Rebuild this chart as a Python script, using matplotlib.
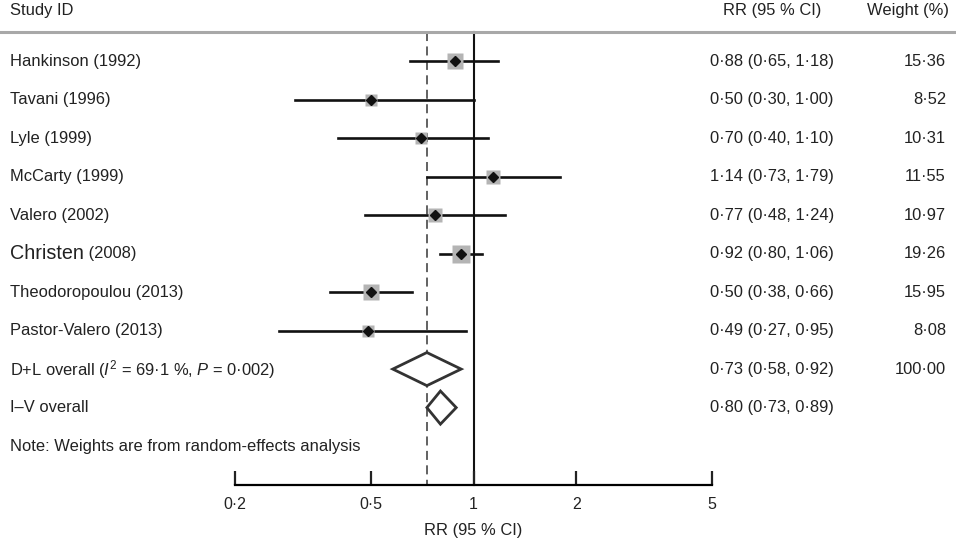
import matplotlib.pyplot as plt
import matplotlib.transforms as mtransforms

plt.rcParams['font.family'] = ['Liberation Sans', 'DejaVu Sans']
plt.rcParams['mathtext.fontset'] = 'custom'
plt.rcParams['mathtext.rm'] = 'Liberation Sans'
plt.rcParams['mathtext.it'] = 'Liberation Sans:italic'

# Données du forest plot
studies = ["Hankinson", "Tavani", "Lyle", "McCarty", "Valero",
           "Christen", "Theodoropoulou", "Pastor-Valero"]
years = ["1992", "1996", "1999", "1999", "2002", "2008", "2013", "2013"]
rr = [0.88, 0.50, 0.70, 1.14, 0.77, 0.92, 0.50, 0.49]
ci_low = [0.65, 0.30, 0.40, 0.73, 0.48, 0.80, 0.38, 0.27]
ci_high = [1.18, 1.00, 1.10, 1.79, 1.24, 1.06, 0.66, 0.95]
weights = [15.36, 8.52, 10.31, 11.55, 10.97, 19.26, 15.95, 8.08]

pooled_labels = ["D+L overall ($\\mathit{I}^2$ = 69·1 %, $\\mathit{P}$ = 0·002)",
                 "I–V overall"]
pooled_rr = [0.73, 0.80]
pooled_low = [0.58, 0.73]
pooled_high = [0.92, 0.89]
pooled_weights = ["100·00", ""]

x_ticks = [0.2, 0.5, 1, 2, 5]
x_tick_labels = ["0·2", "0·5", "1", "2", "5"]


def fmt(v):
    return f"{v:.2f}".replace(".", "·")


fig = plt.figure(figsize=(9.56, 5.42), dpi=100)
ax = fig.add_axes([235 / 956, 0, 477 / 956, 1])
ax.set_xscale('log')
ax.set_xlim(0.2, 5)
ax.set_ylim(12.49, -1.584)
trans = mtransforms.blended_transform_factory(fig.transFigure, ax.transData)

for s in ['top', 'left', 'right']:
    ax.spines[s].set_visible(False)
ax.spines['bottom'].set_position(('data', 11))
ax.spines['bottom'].set_linewidth(1.6)
ax.set_yticks([])
ax.set_xticks(x_ticks)
ax.set_xticklabels(x_tick_labels)
ax.minorticks_off()
ax.tick_params(axis='x', direction='in', length=10, width=1.6, pad=9,
               labelsize=11.5, colors='#222222')

txt = dict(fontsize=11.9, color='#222222', va='center')

# En-tête
ax.text(10 / 956, -1.3, "Study ID", transform=trans, ha='left', **txt)
ax.text(772 / 956, -1.3, "RR (95 % CI)", transform=trans, ha='center', **txt)
ax.text(949 / 956, -1.3, "Weight (%)", transform=trans, ha='right', **txt)
ax.plot([0, 1], [-0.75, -0.75], transform=trans, color='#a8a8a8', lw=2.2,
        clip_on=False)

# Lignes verticales
ax.plot([1, 1], [-0.75, 11], color='#111111', lw=1.5, zorder=1)
ax.plot([pooled_rr[0]] * 2, [-0.75, 11], color='#555555', lw=1.3,
        ls=(0, (5, 3)), zorder=1)

# Études
for i in range(len(studies)):
    if studies[i] == "Christen":
        t = ax.text(10 / 956, i, studies[i], transform=trans, ha='left',
                    fontsize=14.2, color='#222222', va='center')
        ax.annotate(" (" + years[i] + ")", xycoords=t, xy=(1, 0.5),
                    ha='left', va='center', fontsize=11.9, color='#222222')
    else:
        ax.text(10 / 956, i, f"{studies[i]} ({years[i]})", transform=trans,
                ha='left', **txt)
    ax.plot([ci_low[i], ci_high[i]], [i, i], color='#111111', lw=1.9, zorder=2)
    ax.plot(rr[i], i, marker='s', markersize=2.85 * weights[i] ** 0.5,
            color='#b4b4b4', mec='none', zorder=3)
    ax.plot(rr[i], i, marker='D', markersize=5.2, color='#111111', zorder=4)
    ax.text(772 / 956, i, f"{fmt(rr[i])} ({fmt(ci_low[i])}, {fmt(ci_high[i])})",
            transform=trans, ha='center', **txt)
    ax.text(946 / 956, i, fmt(weights[i]), transform=trans, ha='right', **txt)

# Résultats poolés
half_h = 0.43
for j in range(len(pooled_rr)):
    y = len(studies) + j
    ax.text(10 / 956, y, pooled_labels[j], transform=trans, ha='left', **txt)
    ax.fill([pooled_low[j], pooled_rr[j], pooled_high[j], pooled_rr[j]],
            [y, y - half_h, y, y + half_h], facecolor='white',
            edgecolor='#333333', lw=2.0, zorder=3)
    ax.text(772 / 956, y,
            f"{fmt(pooled_rr[j])} ({fmt(pooled_low[j])}, {fmt(pooled_high[j])})",
            transform=trans, ha='center', **txt)
    ax.text(946 / 956, y, pooled_weights[j], transform=trans, ha='right', **txt)

ax.text(10 / 956, 10, "Note: Weights are from random-effects analysis",
        transform=trans, ha='left', **txt)

ax.text(1, 12.2, "RR (95 % CI)", ha='center', **txt)

fig.savefig("out.png", dpi=100)
